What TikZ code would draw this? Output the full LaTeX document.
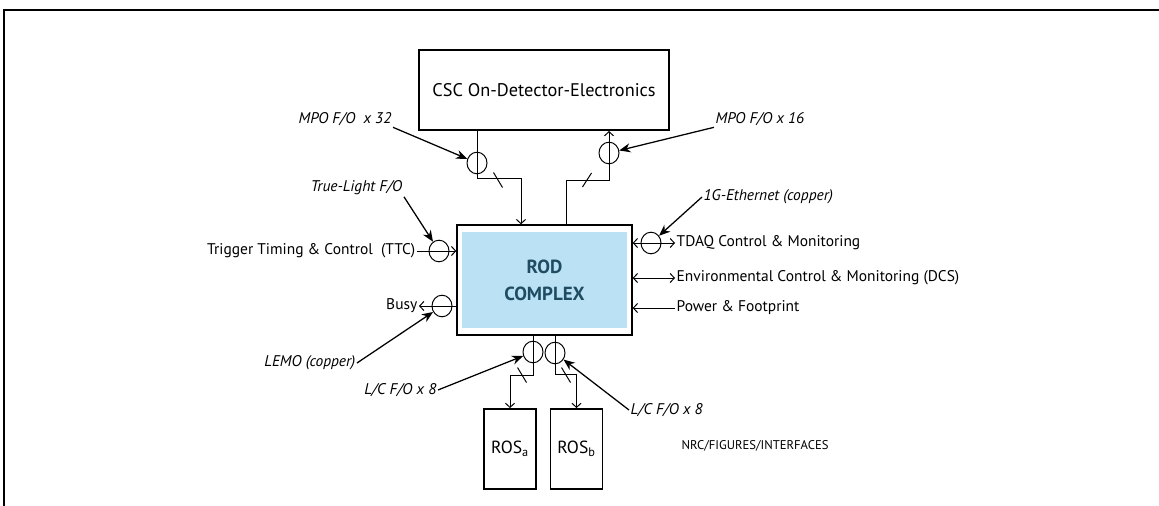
\documentclass[tikz,border=0pt]{standalone}
\usepackage{fontspec}
\setmainfont{PT Sans}
\usetikzlibrary{arrows.meta,positioning,shapes.geometric,fit,calc}
\definecolor{rodblue}{HTML}{BBE2F4}
\definecolor{rodink}{HTML}{1F4C62}

\begin{document}
\begin{tikzpicture}[
  x=0.025cm, y=-0.025cm,
  box/.style={draw,line width=1.4pt,minimum width=6.25cm,minimum height=2cm,align=center,font=\fontsize{13}{15}\selectfont},
  rosbox/.style={draw,line width=1.3pt,minimum width=1.3cm,minimum height=2cm,font=\fontsize{12.5}{14}\selectfont},
  fibre/.style={draw,ellipse,line width=0.7pt,minimum width=0.5cm,minimum height=0.54cm,inner sep=0pt},
  lbl/.style={inner sep=1pt,font=\fontsize{11}{13}\selectfont},
  note/.style={inner sep=1pt,font=\fontsize{11}{13}\selectfont\itshape},
  link/.style={-{Straight Barb[length=3pt,width=6.5pt]},line width=0.7pt},
  both/.style={{Straight Barb[length=3pt,width=6.5pt]}-{Straight Barb[length=3pt,width=6.5pt]},line width=0.7pt},
  slash/.style={line width=0.7pt},
  callout/.style={-{Stealth[length=8pt,width=6.5pt]},line width=0.9pt}
]
  \useasboundingbox (0,0) rectangle (1159,506);
  \draw[line width=0.9pt] (4,506) -- (4,10) -- (1159,10);

  % boxes
  \node[box] (csc) at (544,90) {CSC On-Detector-Electronics};
  \node[fill=rodblue,minimum width=4.125cm,minimum height=2.4cm,align=center,text=rodink,
        font=\fontsize{13.5}{19}\selectfont\bfseries] (rodin) at (544.5,280) {ROD\\COMPLEX};
  \node[draw,line width=1.4pt,fit=(rodin),inner xsep=0.11cm,inner ysep=0.16cm] (rod) {};
  \node[rosbox] (rosa) at (510,449) {ROS\textsubscript{a}};
  \node[rosbox] (rosb) at (576.5,449) {ROS\textsubscript{b}};

  % fibre markers
  \node[fibre] (fcsca) at (477,163) {};
  \node[fibre] (fcscb) at (609,153) {};
  \node[fibre] (fttc) at (439,251) {};
  \node[fibre] (fbusy) at (442,306) {};
  \node[fibre] (ftdaq) at (651,243) {};
  \node[fibre] (frosa) at (533,352) {};
  \node[fibre] (frosb) at (555,353) {};

  % links to the detector
  \coordinate (ba) at (477,178);
  \coordinate (ba2) at (521,178);
  \draw[link] (csc.south -| ba) -- (ba) -- (ba2) -- (rod.north -| ba2);
  \coordinate (bb) at (566,180);
  \coordinate (bb2) at (609,180);
  \draw[link] (rod.north -| bb) -- (bb) -- (bb2) -- (csc.south -| bb2);
  \coordinate (sa) at (498,180);
  \coordinate (sb) at (587,180);
  \draw[slash] (sa) ++(-4.5,-7.5) -- ++(9,15);
  \draw[slash] (sb) ++(-4.5,7) -- ++(9,-14);

  % links to the readout
  \coordinate (bc) at (533,375);
  \coordinate (bc2) at (510,375);
  \draw[link] (rod.south -| bc) -- (bc) -- (bc2) -- (rosa.north);
  \coordinate (bd) at (555,374);
  \coordinate (bd2) at (576.5,374);
  \draw[link] (rod.south -| bd) -- (bd) -- (bd2) -- (rosb.north);
  \coordinate (sc) at (522,375);
  \coordinate (sd) at (566,375);
  \draw[slash] (sc) ++(-4.5,-7.5) -- ++(9,15);
  \draw[slash] (sd) ++(-4.5,-7.5) -- ++(9,15);

  % left side
  \node[lbl,anchor=east] (ttc) at (417,251) {Trigger Timing \& Control\ \ (TTC)};
  \draw[link] (ttc.east) -- (ttc.east -| rod.west);
  \node[lbl,anchor=east] (busy) at (419,306) {Busy};
  \draw[link] (busy.east -| rod.west) -- (busy.east);

  % right side
  \node[lbl,anchor=west] (tdaq) at (675,243) {TDAQ Control \& Monitoring};
  \draw[both] (tdaq.west -| rod.east) -- (tdaq.west);
  \node[lbl,anchor=west] (dcs) at (675,278) {Environmental Control \& Monitoring (DCS)};
  \draw[both] (dcs.west -| rod.east) -- (dcs.west);
  \node[lbl,anchor=west] (pwr) at (675,308) {Power \& Footprint};
  \draw[link] (pwr.west) -- (pwr.west -| rod.east);

  % callouts
  \node[note,anchor=east] (mpo32) at (393,119) {MPO F/O\ \ x 32};
  \draw[callout] (mpo32.south east) -- (fcsca);
  \node[note,anchor=west] (mpo16) at (714,119) {MPO F/O x 16};
  \draw[callout] (mpo16.south west) -- (fcscb);
  \node[note,anchor=east] (tlight) at (404,188) {True-Light F/O};
  \draw[callout] (tlight.south east) -- (fttc);
  \node[note,anchor=west] (eth) at (702,197) {1G-Ethernet (copper)};
  \draw[callout] (eth.west) -- (ftdaq);
  \node[note,anchor=east] (lemo) at (357,363) {LEMO (copper)};
  \draw[callout] (lemo.east) -- (fbusy);
  \node[note,anchor=east] (lca) at (438,390) {L/C F/O x 8};
  \draw[callout] (lca.east) -- (frosa);
  \node[note,anchor=west] (lcb) at (629,410) {L/C F/O x 8};
  \draw[callout] (lcb.west) -- (frosb);

  \node[inner sep=1pt,font=\fontsize{9}{11}\selectfont,anchor=west] (nrc) at (680,446) {NRC/FIGURES/INTERFACES};
\end{tikzpicture}
\end{document}
